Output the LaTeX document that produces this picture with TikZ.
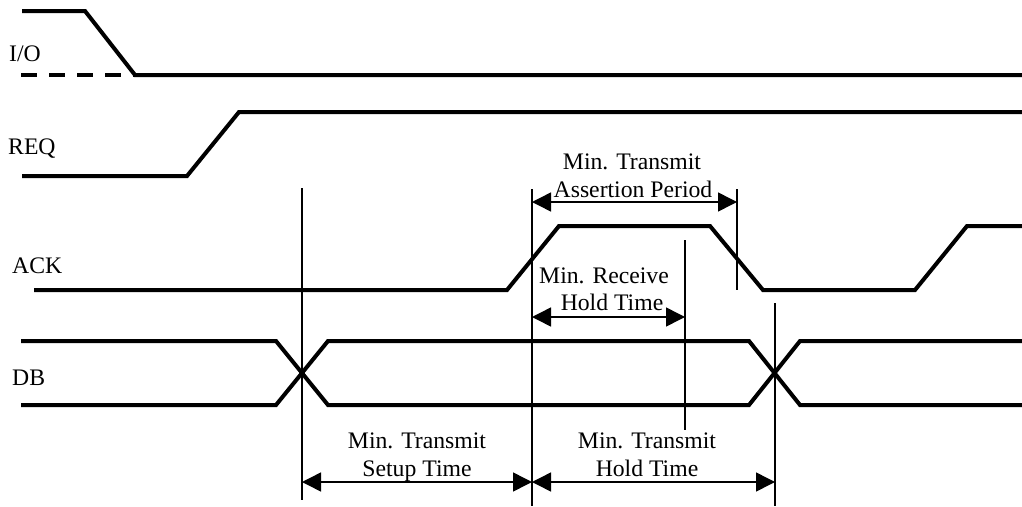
\documentclass[tikz,border=0pt]{standalone}
\usepackage{fontspec}
\setmainfont{Liberation Serif}
\usetikzlibrary{arrows.meta}
\begin{document}
\begin{tikzpicture}[x=1pt,y=-1pt,
  sig/.style={line width=4pt},
  dashsig/.style={line width=4pt, dash pattern=on 16pt off 12pt},
  vline/.style={line width=1.5pt},
  dim/.style={line width=1.5pt, {Triangle[length=19pt,width=19pt]}-{Triangle[length=19pt,width=19pt]}},
  lbl/.style={anchor=base west, inner sep=0pt, font=\fontsize{23.7}{28}\selectfont},
  txt/.style={anchor=base, inner sep=0pt, font=\fontsize{23.7}{28}\selectfont}]
\useasboundingbox (0,0) rectangle (1022,506);
% signal labels
\node[lbl] (lio) at (9,61) {I/O};
\node[lbl] (lreq) at (8,154) {REQ};
\node[lbl] (lack) at (12,273) {ACK};
\node[lbl] (ldb) at (12,385) {DB};
% I/O
\draw[sig] (22,11) -- (85,11) -- (135,75) -- (1022,75);
\draw[dashsig] (21,75) -- (135,75);
% REQ
\draw[sig] (22,176) -- (187,176) -- (239,112) -- (1022,112);
% ACK
\draw[sig] (34,290) -- (507,290) -- (559,226) -- (710,226) -- (763,290) -- (915,290) -- (967,226) -- (1022,226);
% DB
\draw[sig] (21,341) -- (276,341) -- (328,405) -- (749,405) -- (800,341) -- (1022,341);
\draw[sig] (21,405) -- (276,405) -- (328,341) -- (749,341) -- (800,405) -- (1022,405);
% vertical reference lines
\coordinate (v1t) at (302,188); \coordinate (v1b) at (302,500);
\coordinate (v2t) at (532,189); \coordinate (v2b) at (532,506);
\coordinate (v3t) at (737,189); \coordinate (v3b) at (737,290);
\coordinate (v4t) at (685,240); \coordinate (v4b) at (685,430);
\coordinate (v5t) at (775,303); \coordinate (v5b) at (775,506);
\draw[vline] (v1t) -- (v1b);
\draw[vline] (v2t) -- (v2b);
\draw[vline] (v3t) -- (v3b);
\draw[vline] (v4t) -- (v4b);
\draw[vline] (v5t) -- (v5b);
% dimension arrows
\coordinate (a1) at (532,202); \coordinate (a2) at (737,202);
\coordinate (r1) at (532,317); \coordinate (r2) at (685,317);
\coordinate (s1) at (302,482); \coordinate (s2) at (532,482);
\coordinate (h1) at (532,482); \coordinate (h2) at (775,482);
\draw[dim] (a1) -- (a2);
\draw[dim] (r1) -- (r2);
\draw[dim] (s1) -- (s2);
\draw[dim] (h1) -- (h2);
% texts
\node[txt] (ta1) at (632,169) {Min. Transmit};
\node[txt] (ta2) at (633,197) {Assertion Period};
\node[txt] (tr1) at (604,283) {Min. Receive};
\node[txt] (tr2) at (612,310) {Hold Time};
\node[txt] (ts1) at (417,448) {Min. Transmit};
\node[txt] (ts2) at (417,476) {Setup Time};
\node[txt] (th1) at (647,448) {Min. Transmit};
\node[txt] (th2) at (647,476) {Hold Time};
\end{tikzpicture}
\end{document}
